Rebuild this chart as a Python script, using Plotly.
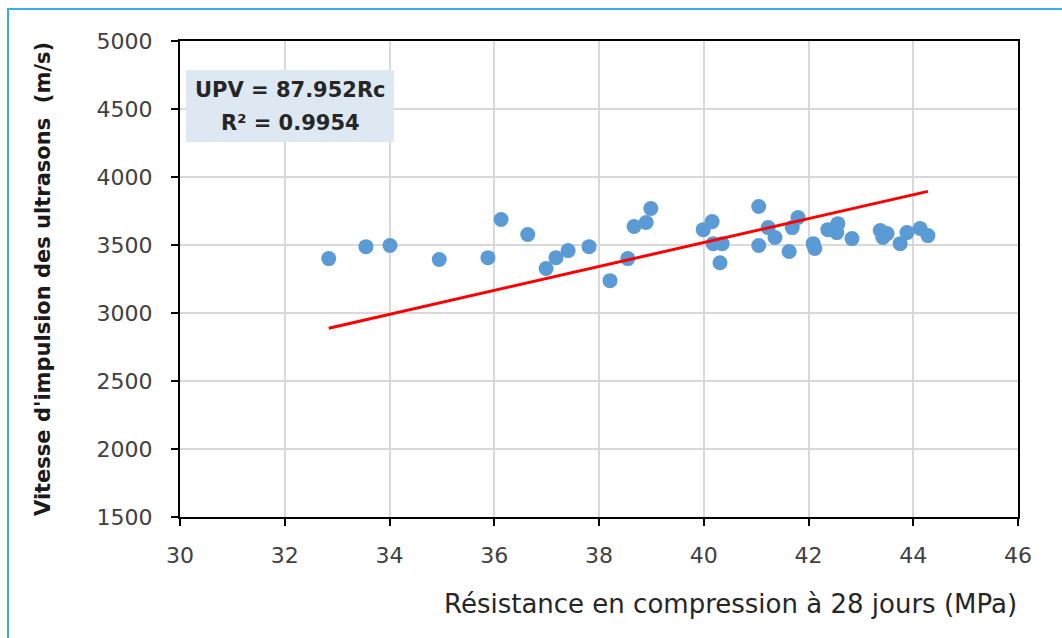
import plotly.graph_objects as go

# Data
rc = [32.84, 33.55, 34.01, 34.95, 35.88, 36.13, 36.64, 36.99, 37.18, 37.41,
      37.81, 38.21, 38.55, 38.67, 38.90, 38.99, 39.99, 40.16, 40.18, 40.35,
      40.31, 41.05, 41.05, 41.23, 41.36, 41.63, 41.80, 41.69, 42.09, 42.12,
      42.37, 42.56, 42.54, 42.83, 43.37, 43.50, 43.42, 43.75, 43.88, 44.13,
      44.28]
upv = [3400, 3488, 3496, 3393, 3407, 3687, 3577, 3327, 3407, 3459,
       3488, 3238, 3400, 3636, 3665, 3768, 3613, 3672, 3510, 3510,
       3370, 3783, 3496, 3628, 3555, 3452, 3702, 3628, 3510, 3474,
       3613, 3657, 3591, 3547, 3606, 3584, 3555, 3510, 3591, 3621,
       3569]
slope = 87.952
r2 = 0.9954
x_ticks = [30, 32, 34, 36, 38, 40, 42, 44, 46]
y_ticks = [1500, 2000, 2500, 3000, 3500, 4000, 4500, 5000]

trend_x = [min(rc), max(rc)]
trend_y = [slope * v for v in trend_x]

fig = go.Figure()
fig.add_trace(go.Scatter(x=rc, y=upv, mode="markers",
                         marker=dict(color="#5b9bd5", size=15, line=dict(width=0)),
                         showlegend=False))
fig.add_trace(go.Scatter(x=trend_x, y=trend_y, mode="lines",
                         line=dict(color="#ff0000", width=3), showlegend=False))

tick_font = dict(family="DejaVu Sans", size=22, color="#404040")
fig.update_xaxes(range=[30, 46], tickvals=x_ticks, showgrid=True, gridcolor="#d9d9d9", gridwidth=2,
                 showline=True, linecolor="black", linewidth=2, mirror=True,
                 ticks="outside", ticklen=7, tickwidth=2, tickcolor="black",
                 ticklabelstandoff=11, tickfont=tick_font, zeroline=False)
fig.update_yaxes(range=[1500, 5000], tickvals=y_ticks, showgrid=True, gridcolor="#d9d9d9", gridwidth=2,
                 showline=True, linecolor="black", linewidth=2, mirror=True,
                 ticks="outside", ticklen=7, tickwidth=2, tickcolor="black",
                 ticklabelstandoff=14, tickfont=tick_font, zeroline=False)

W, H = 1062, 638
L, R, T, B = 180, 44, 41, 121
pw, ph = W - L - R, H - T - B

def px(xp):
    return (xp - L) / pw

def py(yp):
    return (H - B - yp) / ph

shapes = [
    dict(type="rect", xref="paper", yref="paper", x0=px(8), x1=px(1075), y0=py(660), y1=py(9),
         line=dict(color="#3aaee3", width=2), fillcolor="rgba(0,0,0,0)", layer="below"),
    dict(type="rect", xref="paper", yref="paper", x0=px(186), x1=px(394), y0=py(142), y1=py(70),
         line=dict(width=0), fillcolor="#dde8f3", layer="above"),
]

annotations = [
    dict(text=f"UPV = {slope}Rc", xref="paper", yref="paper", x=px(290), y=py(90),
         showarrow=False, font=dict(family="DejaVu Sans", size=21, color="#262626", weight="bold"),
         xanchor="center", yanchor="middle"),
    dict(text=f"R² = {r2}", xref="paper", yref="paper", x=px(290), y=py(123),
         showarrow=False, font=dict(family="DejaVu Sans", size=21, color="#262626", weight="bold"),
         xanchor="center", yanchor="middle"),
    dict(text="Vitesse d'impulsion des ultrasons  (m/s)", xref="paper", yref="paper",
         x=px(43), y=0.5, textangle=-90, showarrow=False,
         font=dict(family="DejaVu Sans", size=21, color="#1a1a1a", weight="bold"),
         xanchor="center", yanchor="middle"),
    dict(text="Résistance en compression à 28 jours (MPa)", xref="paper", yref="paper",
         x=px(1019), y=py(604), showarrow=False,
         font=dict(family="DejaVu Sans", size=26, color="#262626"),
         xanchor="right", yanchor="middle"),
]

fig.update_layout(width=W, height=H, margin=dict(l=L, r=R, t=T, b=B),
                  plot_bgcolor="white", paper_bgcolor="white",
                  shapes=shapes, annotations=annotations)

fig.write_html("out.html", config={"displayModeBar": False},
               post_script="document.body.style.margin='0';")
